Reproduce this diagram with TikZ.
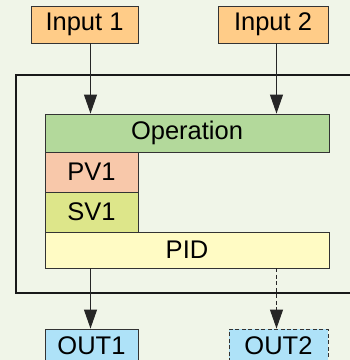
\documentclass[tikz,border=0pt]{standalone}
\usepackage{fontspec}
\setmainfont{Liberation Sans}
\usetikzlibrary{arrows.meta}

\definecolor{bgcol}{HTML}{F0F5E8}
\definecolor{incol}{HTML}{FFCC88}
\definecolor{opcol}{HTML}{B3D99B}
\definecolor{pvcol}{HTML}{F8C8AA}
\definecolor{svcol}{HTML}{DDE68A}
\definecolor{pidcol}{HTML}{FFFBC4}
\definecolor{outcol}{HTML}{AEE2F8}
\definecolor{edgecol}{HTML}{333333}

\begin{document}
\begin{tikzpicture}[
    x=1pt, y=-1pt,
    box/.style={draw=edgecol, line width=0.9pt, rectangle, inner sep=0pt,
        font=\fontsize{25.5}{28}\selectfont},
    arrow/.style={-{Triangle[length=19pt,width=13pt]}, line width=1pt, draw=black!85},
    dashline/.style={dash pattern=on 4pt off 2.5pt},
    frame/.style={line width=2.4pt, draw=black!90}
]
    % 背景と描画範囲
    \fill[bgcol] (0,0) rectangle (350,360);
    \useasboundingbox (0,0) rectangle (350,360);
    \clip (0,0) rectangle (350,360);

    % 矢印の位置
    \def\colA{90.5}
    \def\colB{276.5}
    \coordinate (a1) at (\colA,0);
    \coordinate (a2) at (\colB,0);

    % 入力
    \node[box, fill=incol, minimum width=107, minimum height=37] (in1) at (84.5,24.5) {Input 1};
    \node[box, fill=incol, minimum width=110, minimum height=37] (in2) at (273,24.5) {Input 2};

    % 外枠
    \draw[frame] (370,75) -- (16,75) -- (16,293) -- (370,293);

    % 内部ブロック
    \node[box, fill=opcol, minimum width=284, minimum height=38] (op) at (187,133) {Operation};
    \node[box, fill=pvcol, minimum width=93, minimum height=40] (pv) at (91.5,172) {PV1};
    \node[box, fill=svcol, minimum width=93, minimum height=40] (sv) at (91.5,212) {SV1};
    \node[box, fill=pidcol, minimum width=284, minimum height=36] (pid) at (187,250) {PID};

    % 出力
    \node[box, fill=outcol, minimum width=93, minimum height=33] (out1) at (91.5,345.5) {OUT1};
    \node[box, fill=outcol, dashline, minimum width=99, minimum height=33] (out2) at (278.5,345.5) {OUT2};

    % 矢印
    \draw[arrow] (in1.south -| a1) -- (op.north -| a1);
    \draw[arrow] (in2.south -| a2) -- (op.north -| a2);
    \draw[arrow] (pid.south -| a1) -- (out1.north -| a1);
    \draw[arrow, dashline] (pid.south -| a2) -- (out2.north -| a2);

\end{tikzpicture}
\end{document}
